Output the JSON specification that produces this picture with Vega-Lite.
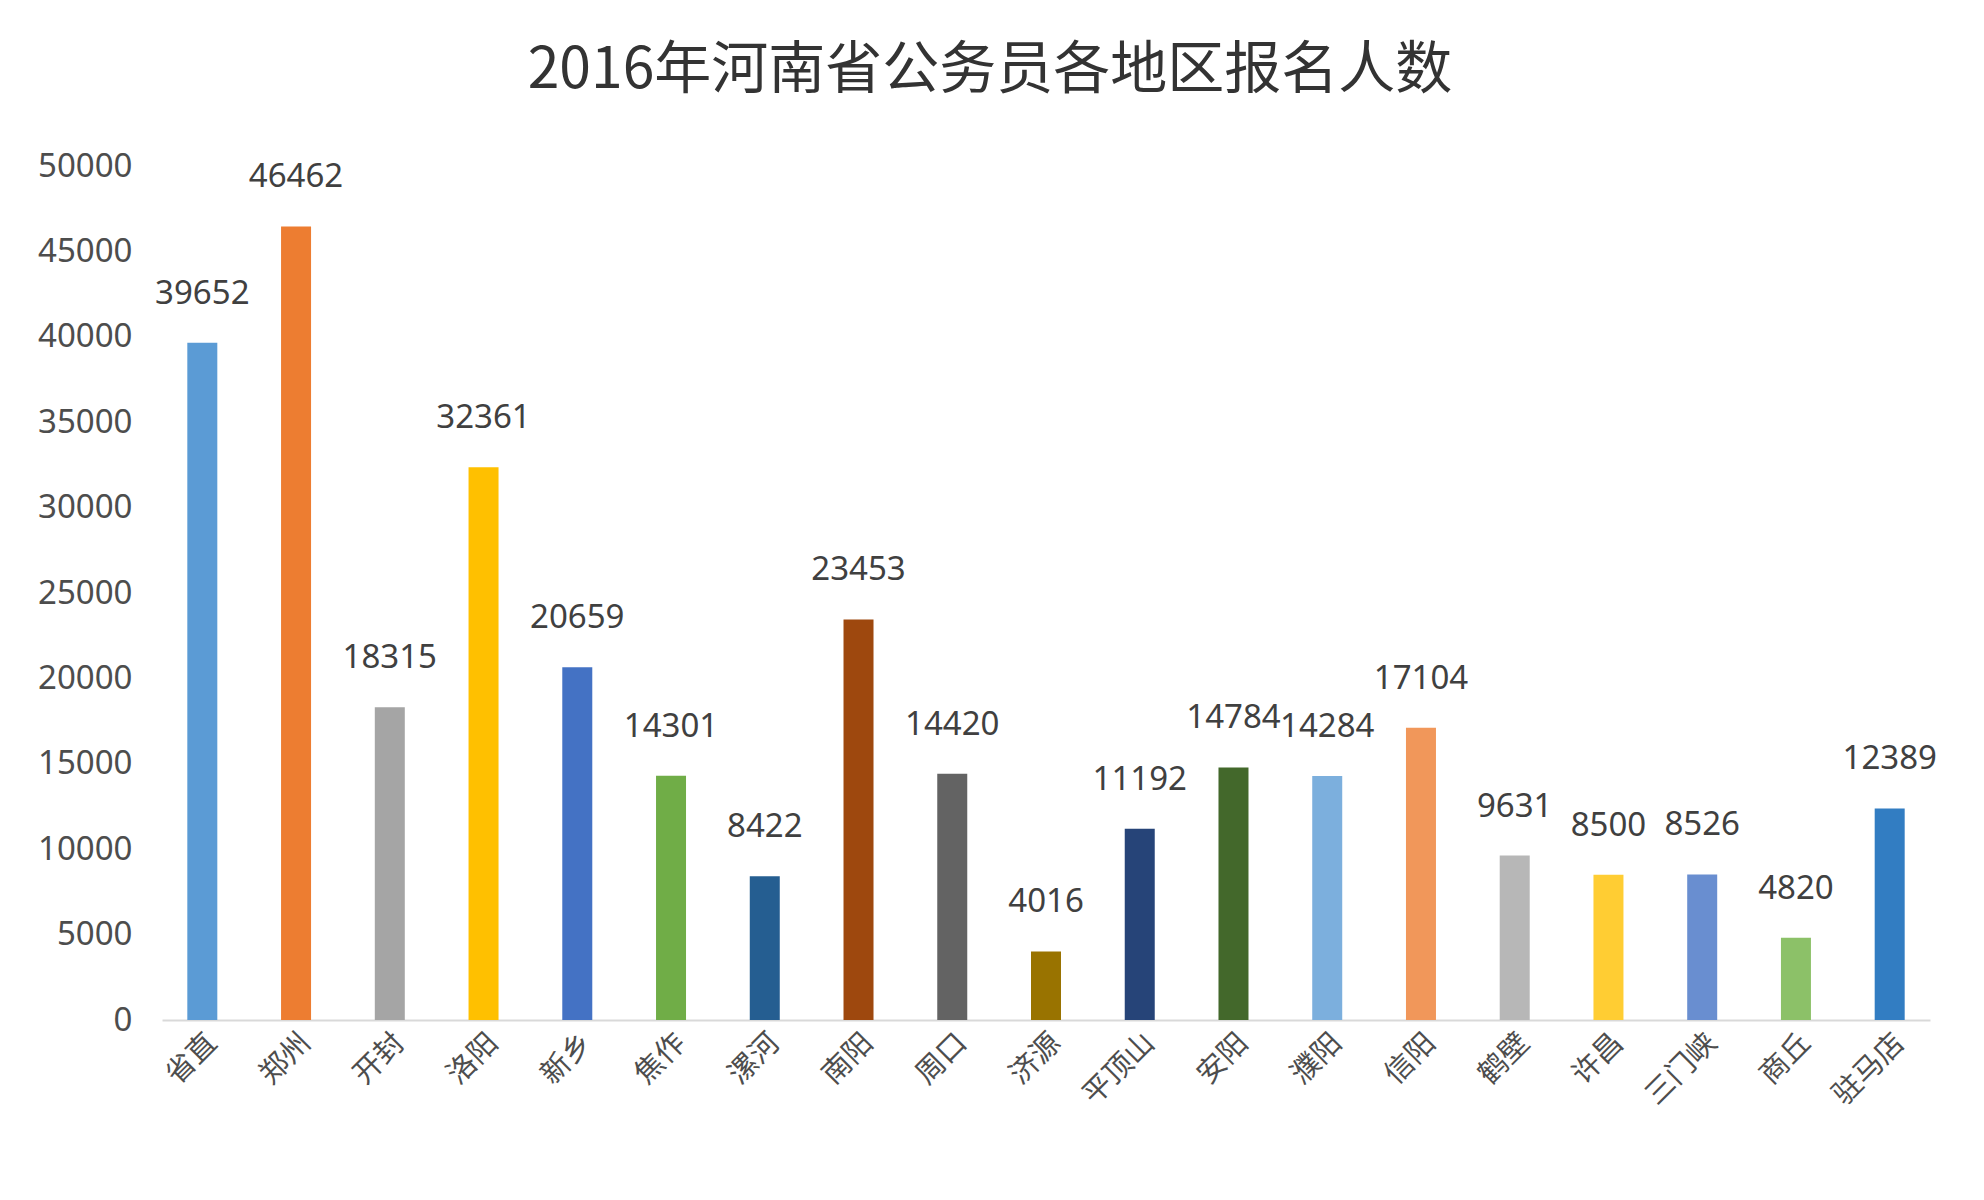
{
  "$schema": "https://vega.github.io/schema/vega-lite/v6.json",
  "width": 1768,
  "height": 854,
  "autosize": "none",
  "padding": {"left": 162, "top": 166, "right": 54, "bottom": 180},
  "background": "white",
  "config": {"view": {"stroke": null}},
  "title": {
    "text": "2016年河南省公务员各地区报名人数",
    "font": "Noto Sans CJK SC",
    "fontSize": 57,
    "fontWeight": "normal",
    "color": "#333333",
    "anchor": "middle",
    "dx": -56,
    "offset": 50
  },
  "data": {
    "values": [
      {"region": "省直", "count": 39652, "color": "#5b9bd5"},
      {"region": "郑州", "count": 46462, "color": "#ed7d31"},
      {"region": "开封", "count": 18315, "color": "#a5a5a5"},
      {"region": "洛阳", "count": 32361, "color": "#ffc000"},
      {"region": "新乡", "count": 20659, "color": "#4472c4"},
      {"region": "焦作", "count": 14301, "color": "#70ad47"},
      {"region": "漯河", "count": 8422, "color": "#255e91"},
      {"region": "南阳", "count": 23453, "color": "#9e480e"},
      {"region": "周口", "count": 14420, "color": "#636363"},
      {"region": "济源", "count": 4016, "color": "#997300"},
      {"region": "平顶山", "count": 11192, "color": "#264478"},
      {"region": "安阳", "count": 14784, "color": "#43682b"},
      {"region": "濮阳", "count": 14284, "color": "#7cafdd"},
      {"region": "信阳", "count": 17104, "color": "#f1975a"},
      {"region": "鹤壁", "count": 9631, "color": "#b7b7b7"},
      {"region": "许昌", "count": 8500, "color": "#ffcd33"},
      {"region": "三门峡", "count": 8526, "color": "#698ed0"},
      {"region": "商丘", "count": 4820, "color": "#8cc168"},
      {"region": "驻马店", "count": 12389, "color": "#327dc2"}
    ]
  },
  "encoding": {
    "x": {
      "field": "region",
      "type": "nominal",
      "sort": null,
      "scale": {"paddingInner": 0.68, "paddingOuter": 0.27},
      "axis": {
        "title": null,
        "labelAngle": -45,
        "labelFont": "Noto Sans CJK SC",
        "labelFontSize": 29,
        "labelColor": "#4d4d4d",
        "labelPadding": 8,
        "ticks": false,
        "domainColor": "#d9d9d9",
        "domainWidth": 2
      }
    },
    "y": {
      "field": "count",
      "type": "quantitative",
      "scale": {"domain": [0, 50000]},
      "axis": {
        "title": null,
        "values": [0, 5000, 10000, 15000, 20000, 25000, 30000, 35000, 40000, 45000, 50000],
        "format": "d",
        "grid": false,
        "domain": false,
        "ticks": false,
        "labelFont": "Noto Sans",
        "labelFontSize": 33,
        "labelColor": "#4d4d4d",
        "labelPadding": 30
      }
    }
  },
  "layer": [
    {
      "mark": {"type": "bar"},
      "encoding": {
        "color": {"field": "color", "type": "nominal", "scale": null}
      }
    },
    {
      "mark": {"type": "text", "dy": -32, "font": "Noto Sans", "fontSize": 33, "color": "#404040", "baseline": "bottom"},
      "encoding": {
        "text": {"field": "count", "type": "quantitative", "format": "d"}
      }
    }
  ]
}
